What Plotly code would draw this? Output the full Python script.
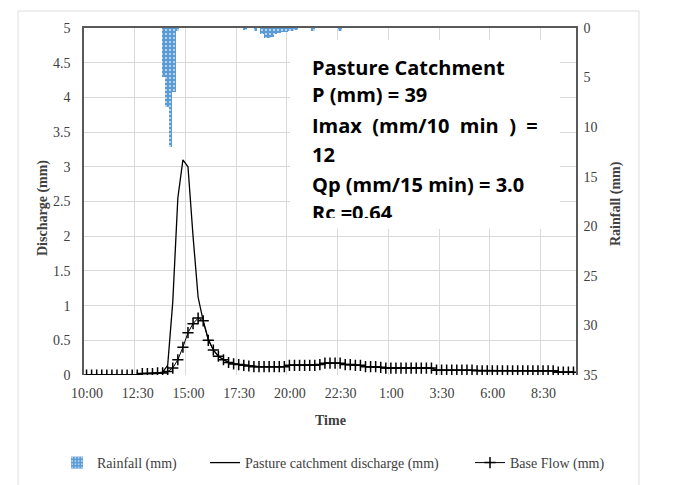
import plotly.graph_objects as go

# Quarter-hourly series from 10:00 to 10:00 the next day (mm per 15 min)
discharge_mm = [
    0.0, 0.0, 0.0, 0.0, 0.0, 0.0, 0.0, 0.0, 0.0, 0.0, 0.0,
    0.02, 0.02, 0.02, 0.03, 0.04,
    0.14, 1.05, 2.55, 3.1, 3.0, 2.0, 1.12, 0.78, 0.52, 0.36, 0.27, 0.22,
    0.18, 0.16, 0.15, 0.14,
    0.13, 0.12, 0.12, 0.12, 0.12, 0.12, 0.12, 0.12,
    0.14, 0.14, 0.14, 0.14, 0.14, 0.14, 0.15,
    0.17, 0.17, 0.17, 0.17,
    0.15, 0.15, 0.14, 0.14,
    0.12, 0.12, 0.12, 0.11,
    0.1, 0.1, 0.1, 0.1, 0.1, 0.1, 0.1, 0.1, 0.1, 0.1,
    0.07, 0.07, 0.07, 0.07, 0.07, 0.07, 0.07, 0.07, 0.06, 0.06, 0.06, 0.06,
    0.06, 0.06, 0.06, 0.06, 0.06, 0.06, 0.06, 0.06, 0.06, 0.06, 0.06, 0.06,
    0.04, 0.04, 0.04, 0.04,
]
base_flow_mm = [
    0.0, 0.0, 0.0, 0.0, 0.0, 0.0, 0.0, 0.0, 0.0, 0.0, 0.0,
    0.02, 0.02, 0.02, 0.03, 0.03,
    0.05, 0.1, 0.22, 0.4, 0.61, 0.74, 0.82, 0.78, 0.5, 0.36, 0.27, 0.22,
    0.18, 0.16, 0.15, 0.14,
    0.13, 0.12, 0.12, 0.12, 0.12, 0.12, 0.12, 0.12,
    0.14, 0.14, 0.14, 0.14, 0.14, 0.14, 0.15,
    0.17, 0.17, 0.17, 0.17,
    0.15, 0.15, 0.14, 0.14,
    0.12, 0.12, 0.12, 0.11,
    0.1, 0.1, 0.1, 0.1, 0.1, 0.1, 0.1, 0.1, 0.1, 0.1,
    0.07, 0.07, 0.07, 0.07, 0.07, 0.07, 0.07, 0.07, 0.06, 0.06, 0.06, 0.06,
    0.06, 0.06, 0.06, 0.06, 0.06, 0.06, 0.06, 0.06, 0.06, 0.06, 0.06, 0.06,
    0.04, 0.04, 0.04, 0.04,
]

# 10-minute rainfall depths, keyed by the start of each interval
rain_times = [
    "13:50", "14:00", "14:10", "14:20", "14:30",
    "17:50", "18:20",
    "18:40", "18:50", "19:00", "19:10", "19:20", "19:30",
    "19:40", "19:50", "20:00", "20:10", "20:20",
    "21:10", "22:30",
]
rain_mm = [
    4.9, 8.0, 12.0, 6.5, 0.3,
    0.2, 0.3,
    0.6, 1.0, 1.0, 0.9, 0.6, 0.5,
    0.4, 0.4, 0.3, 0.3, 0.2,
    0.3, 0.3,
]

time_tick_labels = ["10:00", "12:30", "15:00", "17:30", "20:00",
                    "22:30", "1:00", "3:30", "6:00", "8:30"]
label_every = 10          # one label per 10 quarter-hours (2.5 h)
rain_slots_per_day = 145  # 10-min slots from 10:00 to 10:00

info_lines = ["Pasture Catchment", "P (mm) = 39",
              "Imax\u00a0 (mm/10\u00a0 min\u00a0 )\u00a0 =", "12",
              "Qp (mm/15 min) = 3.0", "Rc =0.64"]

# ---- geometry (pixels in a 677 x 485 page) ----
W, H = 677, 485
PL, PR, PT, PB = 84, 576, 28, 375


def fx(x):
    return (x - PL) / (PR - PL)


def fy(y):
    return (PB - y) / (PB - PT)


quarter_idx = list(range(len(base_flow_mm)))


def rain_slot(t):
    h, m = (int(v) for v in t.split(":"))
    return ((h * 60 + m) - 600) // 10


rain_x = [rain_slot(t) for t in rain_times]

SERIF = "Liberation Serif"
TICK = "#404040"
GRID = "#d9d9d9"
AXLINE = "#595959"
RAIN_BLUE = "#5b9bd5"

fig = go.Figure()

fig.add_trace(go.Bar(
    x=rain_x, y=rain_mm, xaxis="x2", yaxis="y2",
    name="Rainfall (mm)", width=1.0,
    marker=dict(color=RAIN_BLUE, line=dict(width=0),
                pattern=dict(shape=".", fillmode="replace", bgcolor=RAIN_BLUE,
                             fgcolor="#dceaf7", size=4, solidity=0.18)),
    legend="legend",
))
fig.add_trace(go.Scatter(
    x=quarter_idx, y=discharge_mm, mode="lines",
    name="Pasture catchment discharge (mm)",
    line=dict(color="black", width=1.3),
    legend="legend2",
))
fig.add_trace(go.Scatter(
    x=quarter_idx, y=base_flow_mm, mode="lines+markers",
    name="Base Flow (mm)",
    line=dict(color="black", width=1),
    marker=dict(symbol="cross-thin", size=8,
                line=dict(color="black", width=1.5)),
    legend="legend3",
))

n = len(base_flow_mm)
tickvals = [-0.5 + label_every * k for k in range(len(time_tick_labels))]

# legends sit in the bottom strip of the page, measured from the page itself
legend_style = dict(orientation="h", xanchor="left", yref="container",
                    y=(H - 463) / H, yanchor="middle",
                    font=dict(family=SERIF, size=14, color=TICK),
                    bgcolor="rgba(0,0,0,0)")

fig.update_layout(
    template="none",
    width=W, height=H,
    margin=dict(l=PL, r=W - PR, t=PT, b=H - PB, pad=0, autoexpand=False),
    paper_bgcolor="white", plot_bgcolor="white",
    bargap=0,
    showlegend=True,
    font=dict(family=SERIF, size=14, color=TICK),
    xaxis=dict(
        range=[-0.5, n - 0.5], tickmode="array", tickvals=tickvals,
        ticktext=time_tick_labels, ticklabelshift=3, ticklabelstandoff=8,
        showgrid=True, gridcolor=GRID, gridwidth=1,
        zeroline=False, showline=False, ticks="",
        tickfont=dict(family=SERIF, size=14, color=TICK),
    ),
    yaxis=dict(
        range=[0, 5], dtick=0.5, tick0=0,
        showgrid=True, gridcolor=GRID, gridwidth=1,
        zeroline=False, showline=True, linecolor=AXLINE, linewidth=1.5,
        ticks="", ticklabelstandoff=9,
        tickfont=dict(family=SERIF, size=14, color=TICK),
    ),
    xaxis2=dict(
        overlaying="x", side="top", range=[-0.5, rain_slots_per_day - 0.5],
        showticklabels=False, showgrid=False, zeroline=False,
        showline=True, linecolor=AXLINE, linewidth=1.5, ticks="",
    ),
    yaxis2=dict(
        overlaying="y", side="right", range=[35, 0], dtick=5, tick0=0,
        showgrid=False, zeroline=False, showline=True,
        linecolor=AXLINE, linewidth=1.5, ticks="", ticklabelstandoff=3,
        tickfont=dict(family=SERIF, size=14, color=TICK),
    ),
    legend=dict(legend_style, x=fx(57)),
    legend2=dict(legend_style, x=fx(205)),
    legend3=dict(legend_style, x=fx(470)),
)

shapes = [
    # faint outer frame of the figure
    dict(type="rect", xref="paper", yref="paper", layer="below",
         x0=fx(18), x1=fx(639), y0=fy(492), y1=fy(11),
         line=dict(color="#dedede", width=1), fillcolor="rgba(0,0,0,0)"),
    # white text panel inside the plot
    dict(type="rect", xref="paper", yref="paper", layer="above",
         x0=fx(290), x1=fx(560), y0=fy(229), y1=fy(40),
         line=dict(width=0), fillcolor="white"),
]
fig.update_layout(shapes=shapes)

title_font = dict(family=SERIF, size=14, color=TICK, weight="bold")
annotations = [
    dict(text="Discharge (mm)", x=fx(43), y=fy(208), xref="paper", yref="paper",
         xanchor="center", yanchor="middle", textangle=-90, showarrow=False,
         font=title_font),
    dict(text="Rainfall (mm)", x=fx(616), y=fy(204), xref="paper", yref="paper",
         xanchor="center", yanchor="middle", textangle=-90, showarrow=False,
         font=title_font),
    dict(text="Time", x=fx(330), y=fy(420), xref="paper", yref="paper",
         xanchor="center", yanchor="middle", showarrow=False, font=title_font),
]

line_centres = [67, 95, 125.5, 154.5, 184.5]
box_font = dict(family="Open Sans", size=20, color="black", weight="bold")
for text, yc in zip(info_lines[:-1], line_centres):
    annotations.append(dict(
        text=text, x=fx(311), y=fy(yc), xref="paper", yref="paper",
        xanchor="left", yanchor="middle", showarrow=False, borderpad=0,
        font=box_font))
# last line overflows the panel and is clipped
annotations.append(dict(
    text=info_lines[-1], x=fx(311), y=fy(198), xref="paper", yref="paper",
    xanchor="left", yanchor="top", showarrow=False, borderpad=0,
    width=120, height=19, align="left", valign="top", font=box_font))

fig.update_layout(annotations=annotations)

fig.write_html("out.html")
